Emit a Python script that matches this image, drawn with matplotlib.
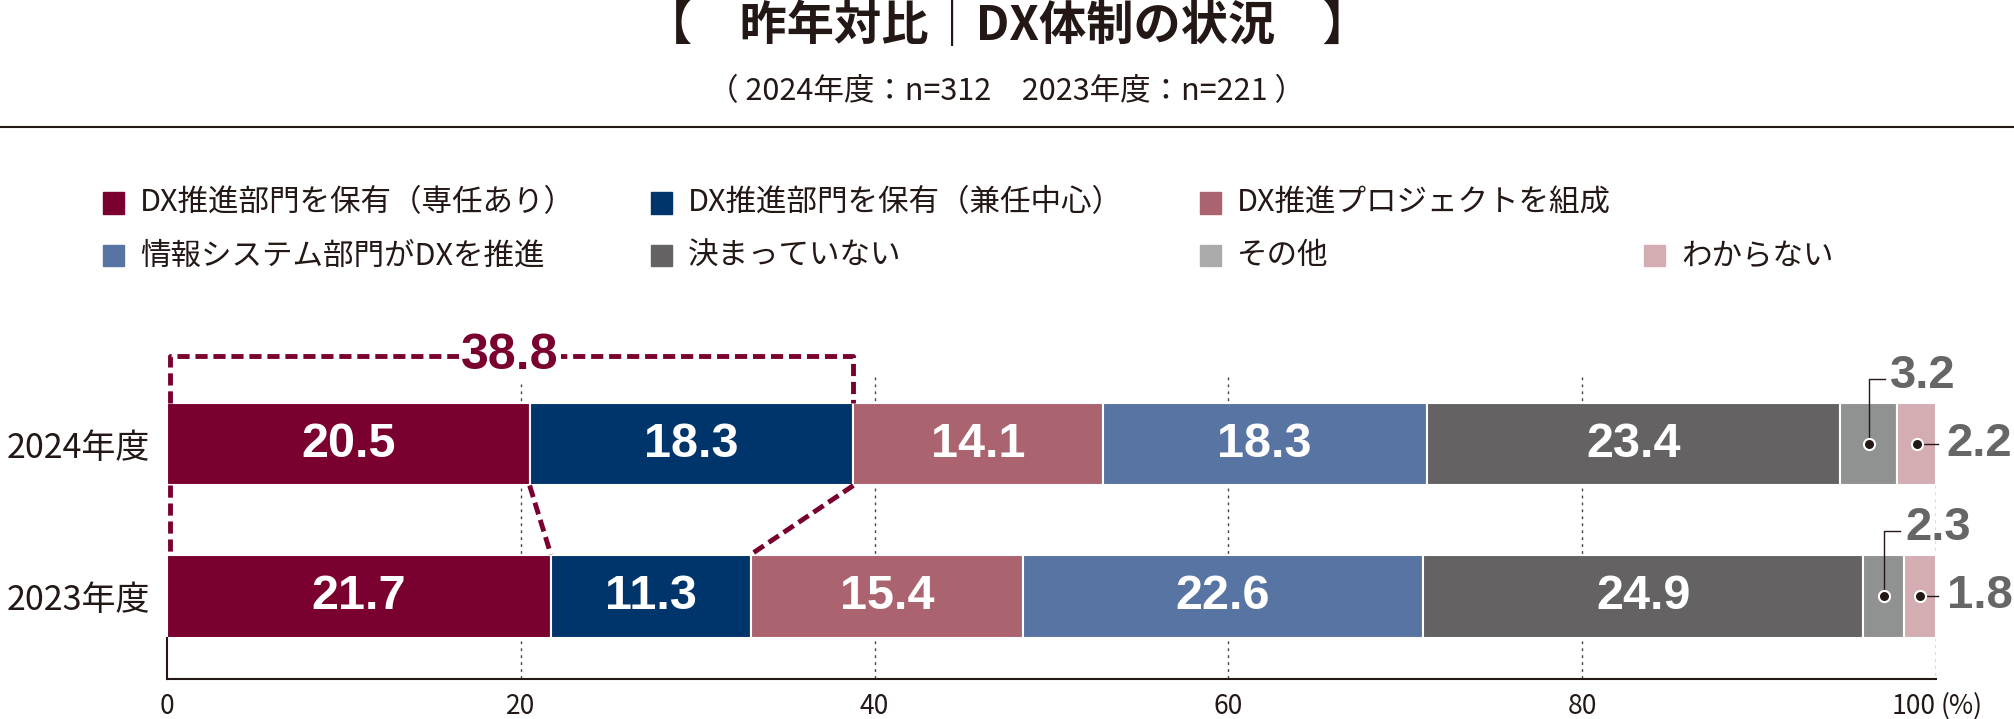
import matplotlib
matplotlib.use('Agg')
import matplotlib.pyplot as plt
from matplotlib.patches import Rectangle
import numpy as np

plt.rcParams['font.family'] = ['Noto Sans CJK JP', 'DejaVu Sans']

# data
years = ['2024年度', '2023年度']
categories = ['DX推進部門を保有（専任あり）', 'DX推進部門を保有（兼任中心）', 'DX推進プロジェクトを組成',
              '情報システム部門がDXを推進', '決まっていない', 'その他', 'わからない']
values_2024 = [20.5, 18.3, 14.1, 18.3, 23.4, 3.2, 2.2]
values_2023 = [21.7, 11.3, 15.4, 22.6, 24.9, 2.3, 1.8]
xticks = [0, 20, 40, 60, 80, 100]
title = '【　昨年対比｜DX体制の状況　】'
subtitle = '（ 2024年度：n=312　2023年度：n=221 ）'

colors = ['#7a0030', '#00356b', '#ab636f', '#5874a3', '#646262', '#909291', '#d4adb2']
legend_colors = ['#7a0030', '#00356b', '#ab636f', '#5874a3', '#646262', '#a9aaa9', '#d4adb2']
maroon = '#7a0030'
ink = '#231815'
num_font = ['Liberation Sans', 'DejaVu Sans']

W, H = 2014, 719
fig = plt.figure(figsize=(W / 100, H / 100), dpi=100)

# header
fig.text(0.5, 1 - 26 / H, title, ha='center', va='center', fontsize=34, fontweight='bold', color=ink)
fig.text(0.5, 1 - 92 / H, subtitle, ha='center', va='center', fontsize=22, color=ink)
fig.add_artist(plt.Line2D([0, 1], [1 - 127 / H] * 2, color=ink, lw=1.5))

# legend (manual, 4 columns)
leg_pos = [(103, 203), (651, 203), (1200, 203), (103, 256), (651, 256), (1200, 256), (1644, 256)]
for (px, py), lab, c in zip(leg_pos, categories, legend_colors):
    fig.add_artist(Rectangle((px / W, 1 - (py + 10.5) / H), 21 / W, 21 / H,
                             color=c, transform=fig.transFigure))
    fig.text((px + 37) / W, 1 - py / H, lab, ha='left', va='center', fontsize=22, color=ink)

# chart
ax = fig.add_axes([167 / W, 1 - 679 / H, (1936 - 167) / W, (679 - 330) / H])
ax.set_xlim(0, 100)
ax.set_ylim(1.546, -0.75)
bh = 0.546
half = bh / 2

for x in xticks[1:-1]:
    ax.vlines(x, -0.44, 1.546, colors='#444444', lw=1, linestyles=(0, (2, 3)), zorder=0)
ax.vlines(100, half, 1.546, colors='#444444', lw=1, linestyles=(0, (2, 3)), zorder=0)

all_vals = [values_2024, values_2023]
for i, vals in enumerate(all_vals):
    vals = np.array(vals)
    lefts = np.cumsum(vals) - vals
    ax.barh(i, vals, left=lefts, height=bh, color=colors, edgecolor='white', linewidth=1.5, zorder=2)
    for v, l in zip(vals, lefts):
        if v >= 5:
            ax.text(l + v / 2, i, f'{v:.1f}', ha='center', va='center', color='white',
                    fontsize=35, fontweight='bold', family=num_font, zorder=3)

    # leader for "その他"
    cx = lefts[5] + vals[5] / 2
    ax.plot([cx, cx, cx + 0.9], [i, i - 0.43, i - 0.43], color=ink, lw=1, zorder=4, clip_on=False)
    ax.text(cx + 1.2, i - 0.45, f'{vals[5]:.1f}', ha='left', va='center', color='#666666',
            fontsize=34, fontweight='bold', family=num_font, clip_on=False)
    ax.plot(cx, i, 'o', ms=8, mfc=ink, mec='white', mew=1.5, zorder=5)
    # leader for "わからない"
    cx = lefts[6] + vals[6] / 2
    ax.plot([cx, 100.1], [i, i], color=ink, lw=1, zorder=4, clip_on=False)
    ax.text(100.6, i, f'{vals[6]:.1f}', ha='left', va='center', color='#666666',
            fontsize=34, fontweight='bold', family=num_font, clip_on=False)
    ax.plot(cx, i, 'o', ms=8, mfc=ink, mec='white', mew=1.5, zorder=5)

# dashed bracket over the two "DX推進部門" segments
dash = (0, (2.5, 1.2))
c24 = np.cumsum(values_2024)
c23 = np.cumsum(values_2023)
total = c24[1]
yb = -0.58
ax.plot([0.15, 0.15, total, total], [-half, yb, yb, -half], color=maroon, lw=3.5, ls=dash,
        clip_on=False, zorder=3)
ax.text(total / 2, yb, f'{total:.1f}', ha='center', va='center', color=maroon, fontsize=36,
        fontweight='bold', family=num_font, zorder=4,
        bbox=dict(boxstyle='square,pad=0.05', fc='white', ec='none'))
for x24, x23 in zip([0.15, c24[0], c24[1]], [0.15, c23[0], c23[1]]):
    ax.plot([x24, x23], [half, 1 - half], color=maroon, lw=3.5, ls=dash, zorder=3)

# axes styling
for s in ['top', 'right', 'left']:
    ax.spines[s].set_visible(False)
ax.spines['bottom'].set_color(ink)
ax.spines['bottom'].set_linewidth(1.5)
ax.plot([0, 0], [1 + half, 1.546], color=ink, lw=1.5, clip_on=False)

ax.set_xticks(xticks)
ax.set_xticklabels([str(t) for t in xticks])
ax.get_xticklabels()[-1].set_ha('right')
ax.tick_params(axis='x', length=0, pad=10, labelsize=19, labelcolor=ink)
ax.annotate('(%)', xy=(100, 0), xycoords=ax.get_xaxis_transform(), xytext=(3, -10),
            textcoords='offset points', ha='left', va='top', fontsize=19, color=ink)
ax.set_yticks([0, 1])
ax.set_yticklabels(years)
ax.tick_params(axis='y', length=0, pad=12, labelsize=24.5, labelcolor=ink)

fig.savefig('out.png', dpi=100)
